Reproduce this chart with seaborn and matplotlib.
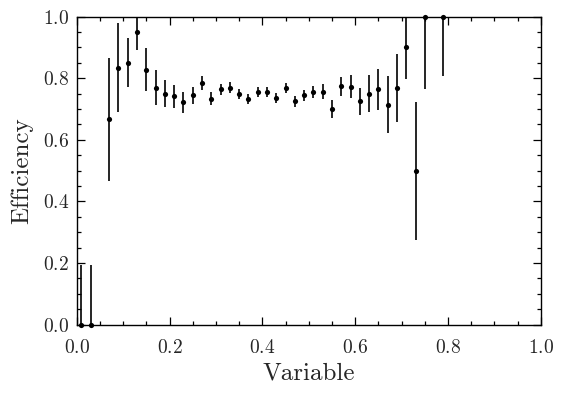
import numpy as np
import pandas as pd
import matplotlib
matplotlib.use("Agg")
import matplotlib.pyplot as plt
import seaborn as sns
from matplotlib.ticker import MultipleLocator

# bin centres and measured efficiency (0.05 and 0.77 bins are empty)
variable = [0.01, 0.03, 0.07, 0.09, 0.11, 0.13, 0.15, 0.17, 0.19, 0.21,
            0.23, 0.25, 0.27, 0.29, 0.31, 0.33, 0.35, 0.37, 0.39, 0.41,
            0.43, 0.45, 0.47, 0.49, 0.51, 0.53, 0.55, 0.57, 0.59, 0.61,
            0.63, 0.65, 0.67, 0.69, 0.71, 0.73, 0.75, 0.79]
efficiency = [0.0, 0.0, 0.667, 0.833, 0.85, 0.95, 0.826, 0.768, 0.748, 0.742,
              0.722, 0.745, 0.784, 0.732, 0.764, 0.768, 0.748, 0.732, 0.755, 0.755,
              0.735, 0.768, 0.725, 0.745, 0.755, 0.755, 0.699, 0.774, 0.771, 0.725,
              0.748, 0.764, 0.712, 0.768, 0.901, 0.5, 1.0, 1.0]
err_low = [0.0, 0.0, 0.467, 0.69, 0.771, 0.892, 0.759, 0.713, 0.707, 0.704,
           0.687, 0.716, 0.761, 0.712, 0.745, 0.751, 0.731, 0.715, 0.738, 0.738,
           0.718, 0.751, 0.707, 0.727, 0.735, 0.732, 0.670, 0.742, 0.735, 0.680,
           0.690, 0.696, 0.621, 0.657, 0.797, 0.275, 0.764, 0.807]
err_high = [0.194, 0.194, 0.865, 0.978, 0.93, 1.0, 0.897, 0.826, 0.793, 0.777,
            0.755, 0.771, 0.807, 0.755, 0.781, 0.787, 0.765, 0.749, 0.772, 0.772,
            0.752, 0.785, 0.743, 0.763, 0.775, 0.780, 0.729, 0.803, 0.81, 0.768,
            0.81, 0.829, 0.807, 0.878, 1.0, 0.722, 1.0, 1.0]

df = pd.DataFrame({"Variable": variable, "Efficiency": efficiency,
                   "lo": err_low, "hi": err_high})

sns.set_style("ticks")
plt.rcParams["font.family"] = "serif"
plt.rcParams["font.serif"] = ["cmr10"]
plt.rcParams["mathtext.fontset"] = "cm"
plt.rcParams["axes.formatter.use_mathtext"] = True

fig = plt.figure(figsize=(5.64, 3.94), dpi=100)
ax = fig.add_axes([0.136, 0.176, 0.823, 0.782])

ax.errorbar(df["Variable"], df["Efficiency"],
            yerr=[df["Efficiency"] - df["lo"], df["hi"] - df["Efficiency"]],
            fmt="none", ecolor="black", elinewidth=1.2, capsize=0)
sns.scatterplot(data=df, x="Variable", y="Efficiency", ax=ax, color="black",
                s=14, edgecolor="black", linewidth=0, zorder=3, clip_on=False)

ax.set_xlim(0, 1)
ax.set_ylim(0, 1)
ax.xaxis.set_major_locator(MultipleLocator(0.2))
ax.yaxis.set_major_locator(MultipleLocator(0.2))
ax.xaxis.set_minor_locator(MultipleLocator(0.05))
ax.yaxis.set_minor_locator(MultipleLocator(0.05))
ax.tick_params(which="both", direction="in", top=True, right=True,
               labelsize=14, width=0.9, color="black")
ax.tick_params(which="major", length=6)
ax.tick_params(which="minor", length=3)
ax.tick_params(axis="x", which="both", pad=10.5)
ax.tick_params(axis="y", which="both", pad=5.5)
for s in ax.spines.values():
    s.set_linewidth(1.0)
    s.set_color("black")
ax.set_xlabel("Variable", fontsize=18)
ax.set_ylabel("Efficiency", fontsize=18, labelpad=7)

fig.savefig("out.png", dpi=100)
